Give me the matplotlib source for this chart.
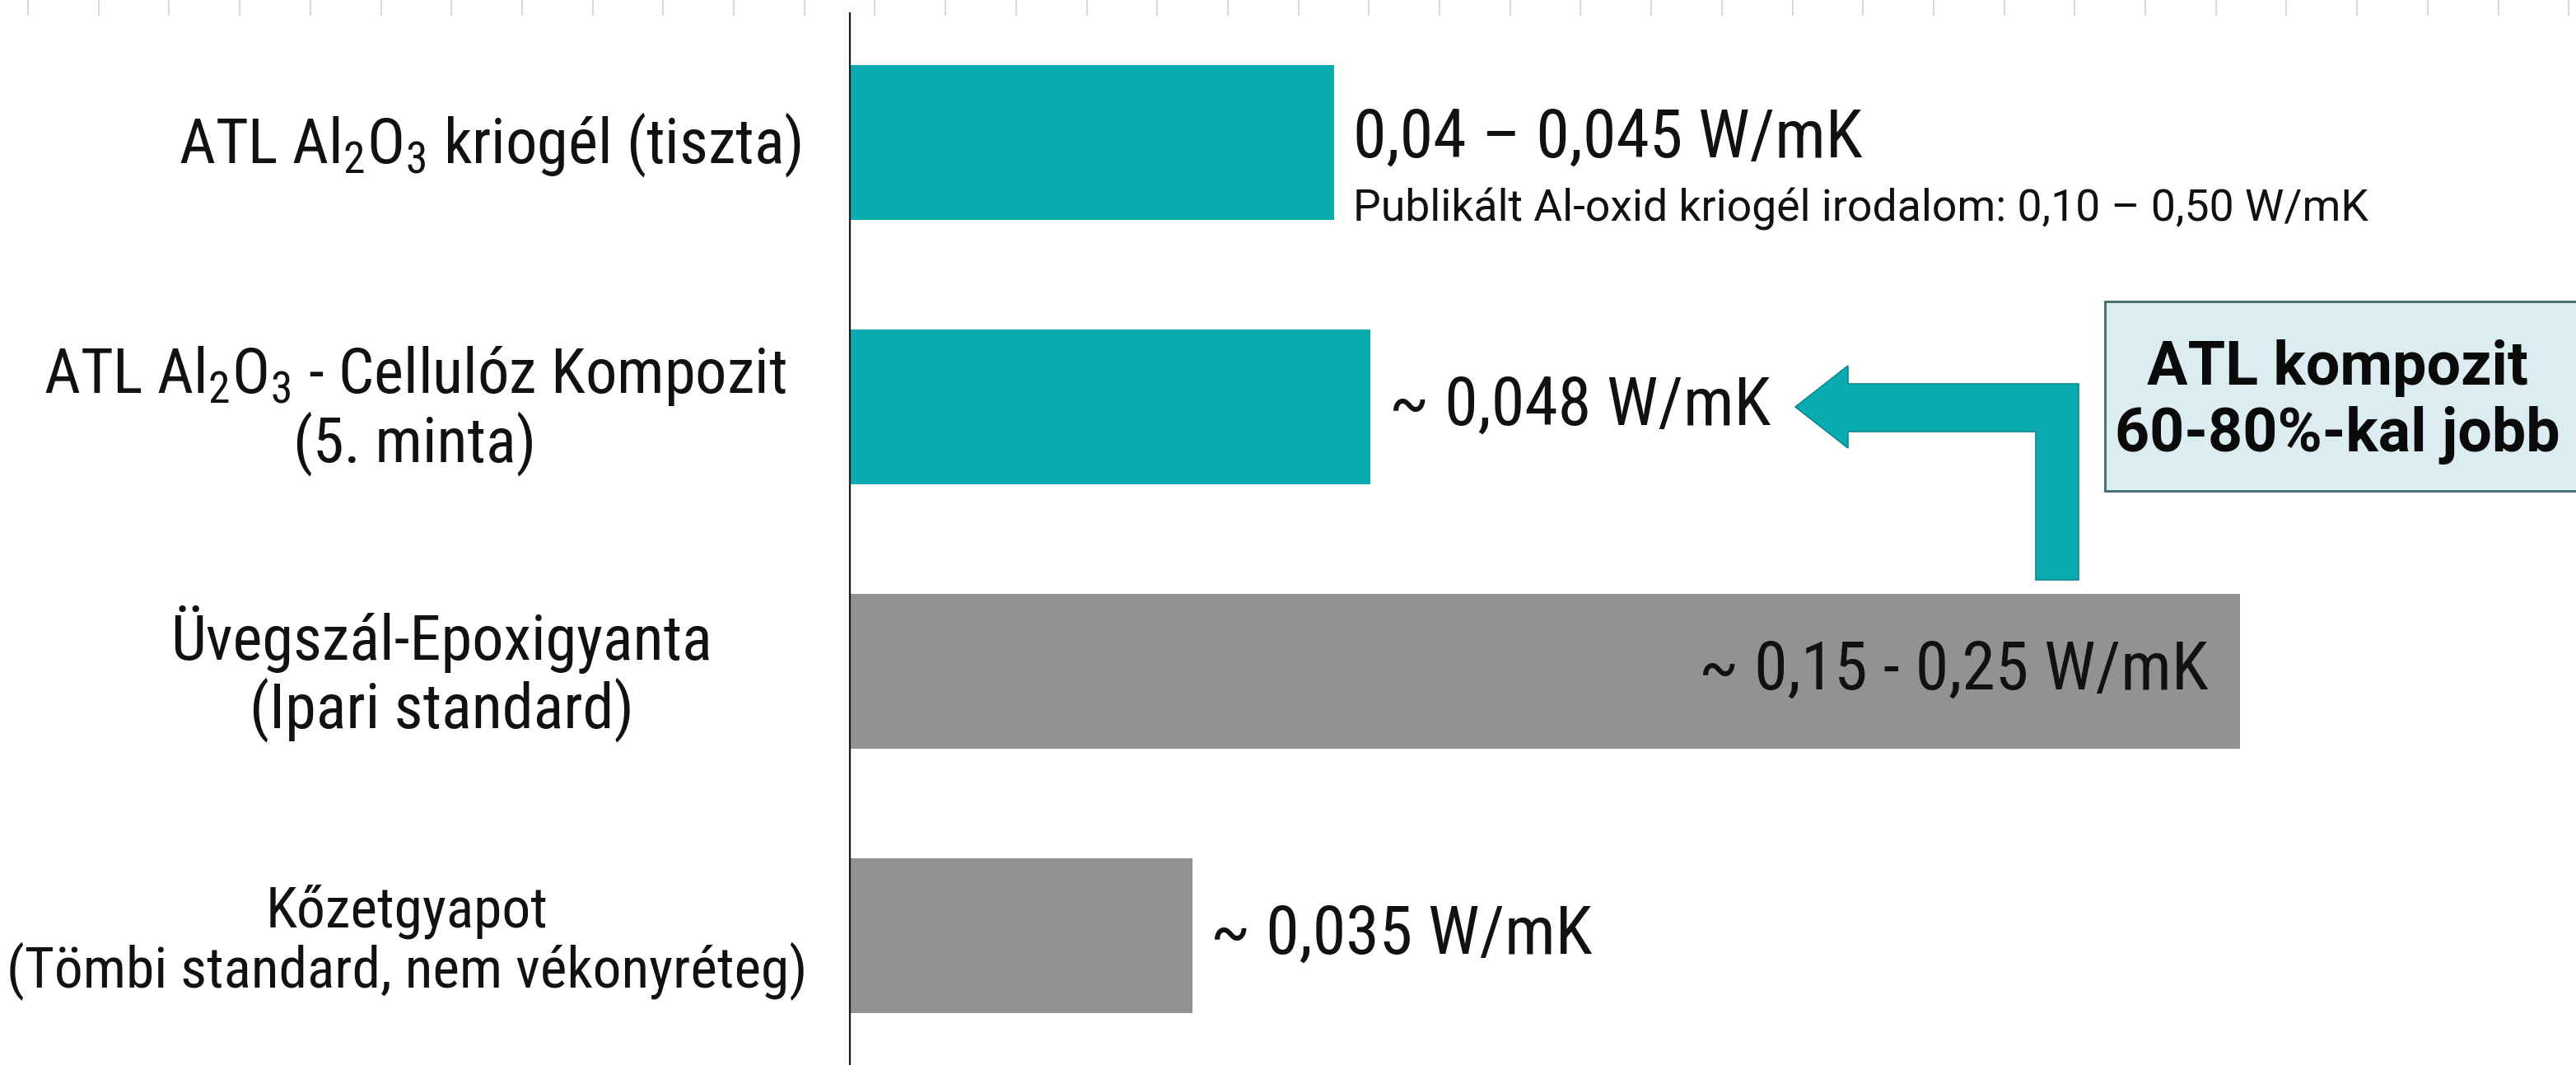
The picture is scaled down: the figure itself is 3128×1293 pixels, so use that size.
import numpy as np
import matplotlib.pyplot as plt
from matplotlib.patches import Polygon, Rectangle

plt.rcParams['font.family'] = ['Roboto Condensed', 'DejaVu Sans']
plt.rcParams['mathtext.fontset'] = 'custom'
plt.rcParams['mathtext.rm'] = 'Roboto Condensed'

# data
categories = ['ATL Al$_2$O$_3$ kriogél (tiszta)',
              'ATL Al$_2$O$_3$ - Cellulóz Kompozit\n(5. minta)',
              'Üvegszál-Epoxigyanta\n(Ipari standard)',
              'Kőzetgyapot\n(Tömbi standard, nem vékonyréteg)']
bar_values = [0.0495, 0.0532, 0.142, 0.035]   # drawn length (W/mK, schematic)
value_labels = ['0,04 – 0,045 W/mK', '~ 0,048 W/mK', '~ 0,15 - 0,25 W/mK', '~ 0,035 W/mK']
note_text = 'Publikált Al-oxid kriogél irodalom: 0,10 – 0,50 W/mK'
box_text = 'ATL kompozit\n60-80%-kal jobb'

teal = '#0aabb1'
grey = '#929294'
bar_colors = [teal, teal, grey, grey]

W, H = 3128, 1293
fig = plt.figure(figsize=(W / 100, H / 100), dpi=100)
fig.patch.set_facecolor('white')

def fx(x):
    return x / W

def fy(y):
    return 1 - y / H

# faint tick row along the top edge
for x in np.arange(34, W, 85.7):
    fig.add_artist(plt.Line2D([fx(x), fx(x)], [fy(0), fy(18)], color='#d9d9d9', lw=1.5))

ax = fig.add_axes([1032 / W, 0, 1 - 1032 / W, 1])
ypos = np.arange(len(categories))
ax.barh(ypos, bar_values, height=0.585, color=bar_colors)
ax.set_xlim(0, 0.1763)
ax.set_ylim(3.489, -0.539)
ax.set_xticks([])
ax.set_yticks([])
for s in ['top', 'right', 'bottom']:
    ax.spines[s].set_visible(False)
ax.spines['left'].set_bounds(-0.49, 3.489)
ax.spines['left'].set_linewidth(1.6)
ax.spines['left'].set_color('#1a1a1a')
ax.patch.set_alpha(0)

# category labels
label_pos = [(595, 176), (504, 498), (536, 818), (494, 1144)]
label_size = [55, 55, 55, 50]
for lab, (x, y), fs in zip(categories, label_pos, label_size):
    fig.text(fx(x), fy(y), lab, ha='center', va='center', multialignment='center',
             fontsize=fs, linespacing=1.06, color='#111111')

# value labels
for i, (v, lab) in enumerate(zip(bar_values, value_labels)):
    if i == 2:
        ax.annotate(lab, (v, i), xytext=(-28, 0), textcoords='offset points',
                    ha='right', va='center', fontsize=59, color='#111111')
    elif i == 0:
        ax.annotate(lab, (v, i), xytext=(16, 3), textcoords='offset points',
                    ha='left', va='center', fontsize=59, color='#111111')
        ax.annotate(note_text, (v, i), xytext=(16, -58), textcoords='offset points',
                    ha='left', va='center', fontsize=38.5, family='Roboto', color='#111111')
    else:
        ax.annotate(lab, (v, i), xytext=(16, 0), textcoords='offset points',
                    ha='left', va='center', fontsize=59, color='#111111')

# L-shaped arrow pointing to composite bar
arrow_px = [(2180, 494), (2244, 444), (2244, 466), (2524, 466), (2524, 704),
            (2472, 704), (2472, 524), (2244, 524), (2244, 544)]
fig.add_artist(Polygon([(fx(x), fy(y)) for x, y in arrow_px], closed=True,
                       facecolor=teal, edgecolor='#0b8a8f', lw=1.2,
                       transform=fig.transFigure))

# callout box
fig.add_artist(Rectangle((fx(2556), fy(596)), fx(3140) - fx(2556), fy(366) - fy(596),
                         facecolor='#dcedf2', edgecolor='#3f6a6f', lw=2,
                         transform=fig.transFigure))
fig.text(fx(2838), fy(488), box_text, ha='center', va='center', fontsize=53,
         family='Roboto', fontweight='bold', linespacing=1.2, color='#0a0a0a')

fig.savefig('out.png', dpi=100)
